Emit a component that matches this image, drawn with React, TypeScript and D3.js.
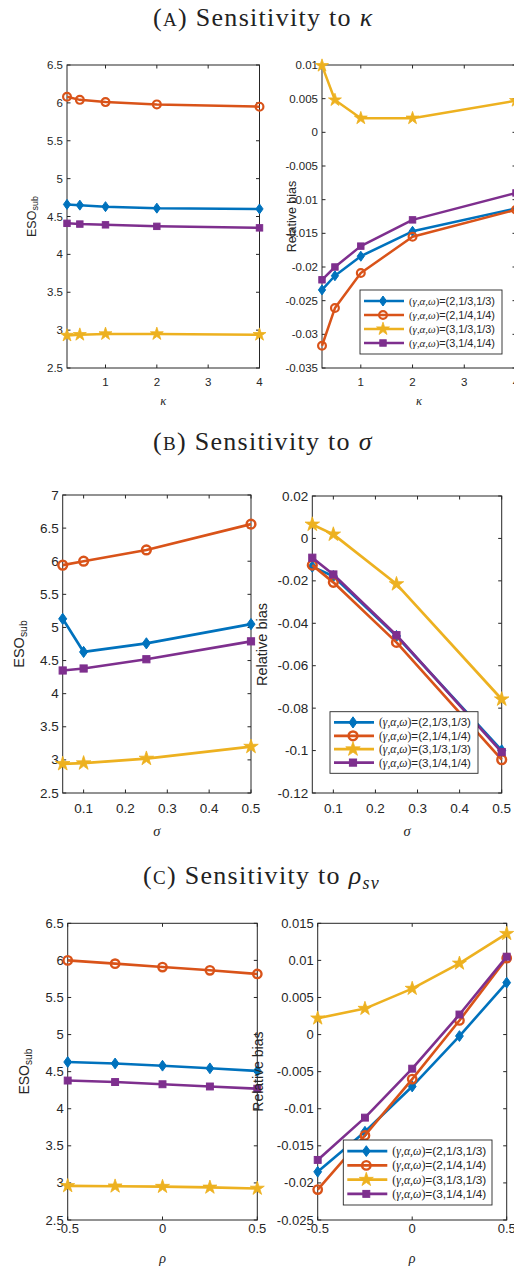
import React from 'react';
import * as d3 from 'd3';

// MATLAB default palette, one per parameter set
const COLORS = ['#0072BD', '#D95319', '#EDB120', '#7E2F8E'];
const MARKERS = ['diamond', 'circle', 'star', 'square'];
const seriesParams = ['2,1/3,1/3', '2,1/4,1/4', '3,1/3,1/3', '3,1/4,1/4'];

// (A) kappa
const kappaValues = [0.25, 0.5, 1, 2, 4];
const kappaTicks = [1, 2, 3, 4];
const esoKappa = [
  [4.66, 4.65, 4.63, 4.61, 4.6],
  [6.08, 6.04, 6.01, 5.98, 5.95],
  [2.93, 2.94, 2.95, 2.95, 2.94],
  [4.41, 4.4, 4.39, 4.37, 4.35],
];
const biasKappa = [
  [-0.0234, -0.0213, -0.0184, -0.0147, -0.0113],
  [-0.0317, -0.0261, -0.0209, -0.0155, -0.0115],
  [0.0099, 0.0048, 0.0021, 0.0021, 0.0047],
  [-0.0219, -0.02, -0.0169, -0.013, -0.009],
];
const esoTicksA = [2.5, 3, 3.5, 4, 4.5, 5, 5.5, 6, 6.5];
const biasTicksA = [-0.035, -0.03, -0.025, -0.02, -0.015, -0.01, -0.005, 0, 0.005, 0.01];

// (B) sigma
const sigmaValues = [0.05, 0.1, 0.25, 0.5];
const sigmaTicks = [0.1, 0.2, 0.3, 0.4, 0.5];
const esoSigma = [
  [5.13, 4.63, 4.76, 5.05],
  [5.94, 6.0, 6.17, 6.56],
  [2.94, 2.95, 3.02, 3.2],
  [4.35, 4.38, 4.52, 4.79],
];
const biasSigma = [
  [-0.0133, -0.0178, -0.046, -0.0999],
  [-0.0126, -0.0207, -0.049, -0.1043],
  [0.0066, 0.0019, -0.0215, -0.0758],
  [-0.0091, -0.017, -0.0456, -0.1007],
];
const esoTicksB = [2.5, 3, 3.5, 4, 4.5, 5, 5.5, 6, 6.5, 7];
const biasTicksB = [-0.12, -0.1, -0.08, -0.06, -0.04, -0.02, 0, 0.02];

// (C) rho
const rhoValues = [-0.5, -0.25, 0, 0.25, 0.5];
const rhoTicks = [-0.5, 0, 0.5];
const esoRho = [
  [4.63, 4.61, 4.58, 4.545, 4.51],
  [6.0, 5.956, 5.91, 5.866, 5.817],
  [2.96, 2.955, 2.95, 2.94, 2.925],
  [4.38, 4.36, 4.33, 4.3, 4.27],
];
const biasRho = [
  [-0.0185, -0.0131, -0.007, -0.0002, 0.007],
  [-0.0209, -0.0136, -0.006, 0.0019, 0.0103],
  [0.0022, 0.0035, 0.0062, 0.0096, 0.0136],
  [-0.0169, -0.0112, -0.0046, 0.0027, 0.0105],
];
const esoTicksC = [2.5, 3, 3.5, 4, 4.5, 5, 5.5, 6, 6.5];
const biasTicksC = [-0.025, -0.02, -0.015, -0.01, -0.005, 0, 0.005, 0.01, 0.015];

const AX = '#262626';
const SANS = '"Liberation Sans", Arial, sans-serif';
const SERIF = '"Liberation Serif", "Times New Roman", serif';
const fmt = (v: number) => String(+v.toFixed(4));

function Marker({ kind, x, y, color, ms }: any) {
  if (kind === 'diamond') {
    const w = 3.6 * ms, h = 5 * ms;
    return <path d={`M${x},${y - h}L${x + w},${y}L${x},${y + h}L${x - w},${y}Z`} fill={color} stroke={color} strokeWidth={1} />;
  }
  if (kind === 'circle') {
    return <circle cx={x} cy={y} r={3.9 * ms} fill="none" stroke={color} strokeWidth={2.2 * ms} />;
  }
  if (kind === 'square') {
    const s = 3.2 * ms;
    return <rect x={x - s} y={y - s} width={2 * s} height={2 * s} fill={color} stroke={color} strokeWidth={1} />;
  }
  const r = 6.8 * ms;
  const d = d3.symbol(d3.symbolStar, (r * r) / 0.8908)();
  return <path d={d || ''} transform={`translate(${x},${y})`} fill={color} stroke={color} strokeWidth={0.8} strokeLinejoin="miter" />;
}

function Axes(p: any) {
  const { box, xs, series, xDomain, yDomain, xTicks, yTicks, fs, ms, lw, ylab, ylabX, xlab, tickY, xlabY, legend } = p;
  const x = d3.scaleLinear().domain(xDomain).range([box.x0, box.x1]);
  const y = d3.scaleLinear().domain(yDomain).range([box.y1, box.y0]);
  const line = d3.line<number>().x((_, i) => x(xs[i])).y(d => y(d));
  const tl = 3.5;
  const cy = (box.y0 + box.y1) / 2;
  const cx = (box.x0 + box.x1) / 2;
  return (
    <g>
      {/* box and ticks */}
      <rect x={box.x0} y={box.y0} width={box.x1 - box.x0} height={box.y1 - box.y0} fill="white" stroke={AX} strokeWidth={1} />
      {xTicks.map((t: number) => (
        <g key={'x' + t}>
          <line x1={x(t)} x2={x(t)} y1={box.y1} y2={box.y1 - tl} stroke={AX} />
          <line x1={x(t)} x2={x(t)} y1={box.y0} y2={box.y0 + tl} stroke={AX} />
          <text x={x(t)} y={tickY} textAnchor="middle" dominantBaseline="central" fontSize={fs} fontFamily={SANS} fill={AX}>{fmt(t)}</text>
        </g>
      ))}
      {yTicks.map((t: number) => (
        <g key={'y' + t}>
          <line x1={box.x0} x2={box.x0 + tl} y1={y(t)} y2={y(t)} stroke={AX} />
          <line x1={box.x1} x2={box.x1 - tl} y1={y(t)} y2={y(t)} stroke={AX} />
          <text x={box.x0 - 4} y={y(t)} textAnchor="end" dominantBaseline="central" fontSize={fs} fontFamily={SANS} fill={AX}>{fmt(t)}</text>
        </g>
      ))}
      {/* y label */}
      <text x={ylabX} y={cy} transform={`rotate(-90,${ylabX},${cy})`} textAnchor="middle" dominantBaseline="central" fontSize={fs + 1} fontFamily={SANS} fill={AX}>
        {ylab === 'eso' ? (
          <>
            <tspan>ESO</tspan>
            <tspan fontSize={(fs + 1) * 0.72} dy={fs * 0.3}>sub</tspan>
          </>
        ) : 'Relative bias'}
      </text>
      {/* x label */}
      <text x={cx} y={xlabY} textAnchor="middle" dominantBaseline="central" fontSize={fs + 1} fontFamily={SERIF} fontStyle="italic" fill={AX}>{xlab}</text>
      {/* series */}
      {series.map((vals: number[], k: number) => (
        <g key={k}>
          <path d={line(vals) || ''} fill="none" stroke={COLORS[k]} strokeWidth={lw} strokeLinejoin="round" />
          {vals.map((v, i) => <Marker key={i} kind={MARKERS[k]} x={x(xs[i])} y={y(v)} color={COLORS[k]} ms={ms} />)}
        </g>
      ))}
      {legend && <Legend {...legend} ms={ms} lw={lw} />}
    </g>
  );
}

function Legend({ x, y, w, h, fs, tw, ms, lw }: any) {
  const pad = 4;
  const gap = (h - 2 * pad) / 4;
  return (
    <g>
      <rect x={x} y={y} width={w} height={h} fill="white" stroke={AX} strokeWidth={0.9} />
      {seriesParams.map((sp, k) => {
        const ry = y + pad + gap * (k + 0.5);
        return (
          <g key={k}>
            <line x1={x + 4} x2={x + 44} y1={ry} y2={ry} stroke={COLORS[k]} strokeWidth={lw} />
            <Marker kind={MARKERS[k]} x={x + 23} y={ry} color={COLORS[k]} ms={ms} />
            <text x={x + 49} y={ry} dominantBaseline="central" fontSize={fs} fill={AX} fontFamily={SANS}
              textLength={tw} lengthAdjust="spacingAndGlyphs">
              <tspan fontFamily={SERIF}>(</tspan>
              <tspan fontFamily={SERIF} fontStyle="italic">γ,α,ω</tspan>
              <tspan fontFamily={SERIF}>)</tspan>
              <tspan>{'=(' + sp + ')'}</tspan>
            </text>
          </g>
        );
      })}
    </g>
  );
}

function Title({ x, y, letter, children }: any) {
  return (
    <text x={x} y={y} fontSize={26} fontFamily={SERIF} fill="#222" letterSpacing={1.3}>
      (<tspan fontSize={19}>{letter}</tspan>) Sensitivity to {children}
    </text>
  );
}

export default function App() {
  return (
    <div style={{ position: 'absolute', left: 0, top: 0 }}>
      <svg width={514} height={1266} style={{ display: 'block', background: 'white' }}>
        <Title x={153} y={26} letter="A"><tspan fontStyle="italic">κ</tspan></Title>
        <Axes box={{ x0: 67, x1: 259.5, y0: 65, y1: 368 }} xs={kappaValues} series={esoKappa} xDomain={[0.25, 4]} yDomain={[2.5, 6.5]}
          xTicks={kappaTicks} yTicks={esoTicksA} fs={11.5} ms={1} lw={2.5} ylab="eso" ylabX={32} xlab="κ" tickY={382} xlabY={401} />
        <Axes box={{ x0: 322, x1: 516, y0: 65, y1: 368 }} xs={kappaValues} series={biasKappa} xDomain={[0.25, 4]} yDomain={[-0.035, 0.01]}
          xTicks={kappaTicks} yTicks={biasTicksA} fs={11.5} ms={1} lw={2.5} ylab="bias" ylabX={292} xlab="κ" tickY={382} xlabY={401}
          legend={{ x: 360, y: 290, w: 142, h: 64, fs: 11, tw: 86 }} />

        <Title x={153} y={450} letter="B"><tspan fontStyle="italic">σ</tspan></Title>
        <Axes box={{ x0: 62.7, x1: 251, y0: 495, y1: 793 }} xs={sigmaValues} series={esoSigma} xDomain={[0.05, 0.5]} yDomain={[2.5, 7]}
          xTicks={sigmaTicks} yTicks={esoTicksB} fs={13.5} ms={1.12} lw={2.7} ylab="eso" ylabX={19} xlab="σ" tickY={808} xlabY={831} />
        <Axes box={{ x0: 312.3, x1: 501.7, y0: 496, y1: 793 }} xs={sigmaValues} series={biasSigma} xDomain={[0.05, 0.5]} yDomain={[-0.12, 0.02]}
          xTicks={sigmaTicks} yTicks={biasTicksB} fs={13.5} ms={1.12} lw={2.7} ylab="bias" ylabX={262} xlab="σ" tickY={808} xlabY={831}
          legend={{ x: 330, y: 711.7, w: 148, h: 61.6, fs: 11.5, tw: 92 }} />

        <Title x={143} y={884} letter="C">
          <tspan fontStyle="italic">ρ</tspan><tspan fontStyle="italic" fontSize={18} dy={5}>sv</tspan>
        </Title>
        <Axes box={{ x0: 67.7, x1: 257.3, y0: 923.3, y1: 1220 }} xs={rhoValues} series={esoRho} xDomain={[-0.5, 0.5]} yDomain={[2.5, 6.5]}
          xTicks={rhoTicks} yTicks={esoTicksC} fs={13} ms={1.08} lw={2.6} ylab="eso" ylabX={24} xlab="ρ" tickY={1228} xlabY={1258} />
        <Axes box={{ x0: 317.7, x1: 506.7, y0: 923.3, y1: 1220 }} xs={rhoValues} series={biasRho} xDomain={[-0.5, 0.5]} yDomain={[-0.025, 0.015]}
          xTicks={rhoTicks} yTicks={biasTicksC} fs={13} ms={1.08} lw={2.6} ylab="bias" ylabX={258} xlab="ρ" tickY={1228} xlabY={1258}
          legend={{ x: 343.3, y: 1140, w: 148.7, h: 65, fs: 11.5, tw: 94 }} />
      </svg>
    </div>
  );
}
